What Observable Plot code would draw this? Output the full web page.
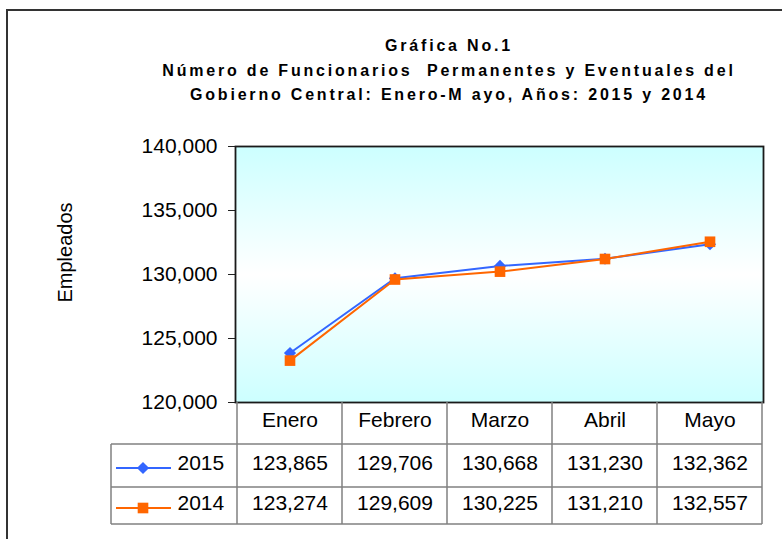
<!DOCTYPE html>
<html><head><meta charset="utf-8">
<script src="https://cdn.jsdelivr.net/npm/d3@7"></script>
<script src="https://cdn.jsdelivr.net/npm/@observablehq/plot@0.6"></script>
<style>
body{margin:0;background:#fff;}
#wrap{position:relative;width:782px;height:539px;overflow:hidden;font-family:"Liberation Sans",Arial,sans-serif;}
#border{position:absolute;left:6px;top:9px;width:800px;height:600px;border-left:2px solid #333;border-top:2px solid #333;}
.t{position:absolute;left:449px;transform:translateX(-50%);white-space:pre;font-weight:bold;font-size:16px;letter-spacing:2.8px;color:#000;line-height:18px;}
#chart{position:absolute;left:0;top:0;}
</style></head><body>
<div id="wrap">
<div id="border"></div>
<div id="chart"></div>
<div class="t" style="top:37px">Gráfica No.1</div>
<div class="t" style="top:62px">Número de Funcionarios  Permanentes y Eventuales del</div>
<div class="t" style="top:86px">Gobierno Central: Enero-M ayo, Años: 2015 y 2014</div>
</div>
<script>
const months = ["Enero", "Febrero", "Marzo", "Abril", "Mayo"];
const v2015 = [123865, 129706, 130668, 131230, 132362];
const v2014 = [123274, 129609, 130225, 131210, 132557];
const years = ["2015", "2014"];
const yTicks = [120000, 125000, 130000, 135000, 140000];
const yLabel = "Empleados";

const fmt = d3.format(",");
const d15 = months.map((m, i) => ({month: m, year: "2015", value: v2015[i]}));
const d14 = months.map((m, i) => ({month: m, year: "2014", value: v2014[i]}));
const C15 = "#3366ff", C14 = "#ff6600";
const R15 = 5.5, R14 = 6;
const FS = 21;

const W = 782, H = 539, MT = 146, MB = 137, ML = 235, MR = 19;
const plot = Plot.plot({
  width: W, height: H,
  marginTop: MT, marginBottom: MB, marginLeft: ML, marginRight: MR,
  style: {fontFamily: "Liberation Sans, Arial, sans-serif", fontSize: FS + "px", background: "transparent", overflow: "visible", color: "#000"},
  x: {type: "band", domain: months, padding: 0, axis: null},
  y: {domain: [120000, 140000]},
  marks: [
    Plot.frame({fill: "url(#bg)"}),
    Plot.axisY({ticks: yTicks, tickFormat: fmt, tickSize: 7, tickPadding: 11, fontSize: FS, label: null, stroke: "#222"}),
    Plot.lineY(d15, {x: "month", y: "value", stroke: C15, strokeWidth: 2}),
    Plot.dot(d15, {x: "month", y: "value", symbol: "diamond2", fill: C15, r: R15}),
    Plot.lineY(d14, {x: "month", y: "value", stroke: C14, strokeWidth: 2}),
    Plot.dot(d14, {x: "month", y: "value", symbol: "square", fill: C14, r: R14}),
    Plot.frame({stroke: "#1a1a1a", strokeWidth: 1.8}),
    Plot.text([yLabel], {text: d => d, frameAnchor: "left", textAnchor: "middle", dx: -170, dy: -22, rotate: -90, fontSize: 20}),
    // table texts
    Plot.text(months, {x: d => d, text: d => d, frameAnchor: "bottom", dy: 24, fontSize: FS}),
    Plot.text(d15, {x: "month", text: d => fmt(d.value), frameAnchor: "bottom", dy: 67, fontSize: FS}),
    Plot.text(d14, {x: "month", text: d => fmt(d.value), frameAnchor: "bottom", dy: 107, fontSize: FS}),
    Plot.text([years[0]], {text: d => d, frameAnchor: "bottom-left", dx: -58, dy: 67, textAnchor: "start", fontSize: FS}),
    Plot.text([years[1]], {text: d => d, frameAnchor: "bottom-left", dx: -58, dy: 107, textAnchor: "start", fontSize: FS})
  ]
});
document.getElementById("chart").appendChild(plot);

const svg = d3.select(plot);
svg.insert("defs", ":first-child").html(
  '<linearGradient id="bg" x1="0" y1="0" x2="0" y2="1">' +
  '<stop offset="0" stop-color="#ccffff"/><stop offset="0.5" stop-color="#ffffff"/><stop offset="1" stop-color="#ccffff"/>' +
  '</linearGradient>');

// table grid
const xs = plot.scale("x");
const bw = xs.bandwidth;
const edges = months.map(m => xs.apply(m)).concat([xs.apply(months[months.length - 1]) + bw]);
const top0 = H - MB, r1 = top0 + 42, r2 = top0 + 85, r3 = top0 + 122, legL = 111;
const g = svg.append("g").attr("stroke", "#808080").attr("stroke-width", 1.5);
edges.forEach(x => g.append("line").attr("x1", x).attr("x2", x).attr("y1", top0).attr("y2", r3));
g.append("line").attr("x1", legL).attr("x2", legL).attr("y1", r1).attr("y2", r3);
[r1, r2, r3].forEach(y => g.append("line").attr("x1", legL).attr("x2", edges[edges.length - 1]).attr("y1", y).attr("y2", y));

// legend keys
const keys = [
  {y: top0 + 66, color: C15, sym: d3.symbolDiamond2, r: R15},
  {y: top0 + 106, color: C14, sym: d3.symbolSquare, r: R14}
];
keys.forEach(k => {
  svg.append("line").attr("x1", 116).attr("x2", 171).attr("y1", k.y).attr("y2", k.y).attr("stroke", k.color).attr("stroke-width", 2);
  svg.append("path").attr("d", d3.symbol(k.sym, Math.PI * k.r * k.r)()).attr("transform", `translate(143,${k.y})`).attr("fill", k.color);
});
</script>
</body></html>
